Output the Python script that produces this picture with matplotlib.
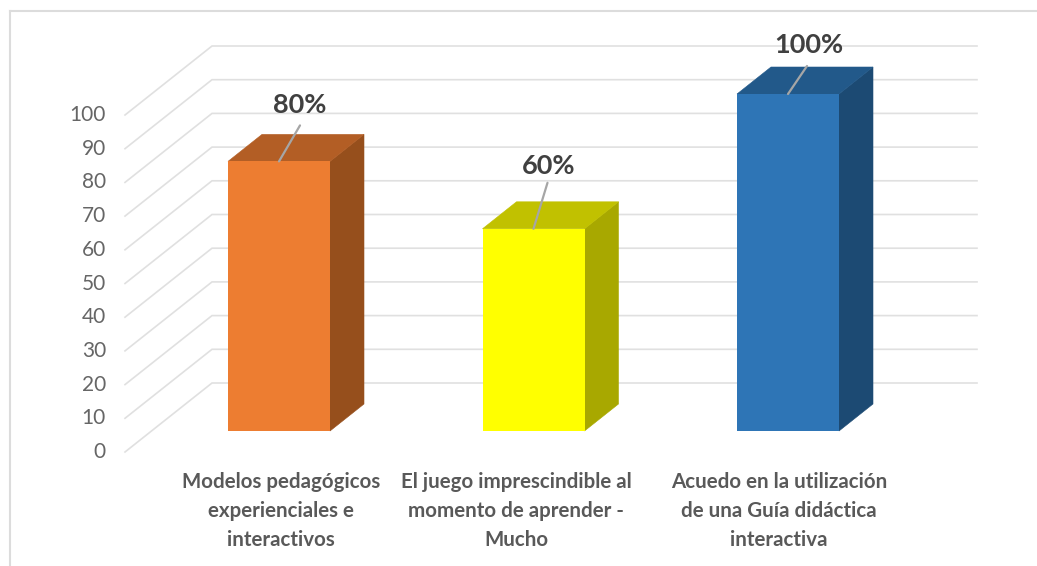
import matplotlib
matplotlib.use("Agg")
import matplotlib.pyplot as plt
from matplotlib.patches import Polygon
from matplotlib.lines import Line2D

plt.rcParams['font.family'] = ['Lato', 'DejaVu Sans']

# Data
categories = [
    ["Modelos pedagógicos", "experienciales e", "interactivos"],
    ["El juego imprescindible al", "momento de aprender -", "Mucho"],
    ["Acuedo en la utilización", "de una Guía didáctica", "interactiva"],
]
values = [80, 60, 100]
value_labels = ["80%", "60%", "100%"]
yticks = [0, 10, 20, 30, 40, 50, 60, 70, 80, 90, 100]

# Styles
front_colors = ["#ED7D31", "#FFFF00", "#2E75B6"]
top_colors = ["#B35E25", "#C1C100", "#22598A"]
side_colors = ["#964F1C", "#A8A800", "#1C4A73"]
GRID = "#E0E0E0"
W, H = 1037, 566
PX_X = 254.5      # pixels per category
PX_Y = 3.37       # pixels per value unit
X0, Y0 = 279, 431  # pixel of category 0, value 0


def px(dx):
    return dx / PX_X


def py(dy):
    return dy / PX_Y


fig = plt.figure(figsize=(W / 100, H / 100), dpi=100, facecolor="white")
ax = fig.add_axes([0, 0, 1, 1])
ax.set_xlim(-X0 / PX_X, (W - X0) / PX_X)
ax.set_ylim((Y0 - H) / PX_Y, Y0 / PX_Y)
ax.axis("off")

# Chart frame
fig.add_artist(Line2D([9.5 / W, 9.5 / W], [0, 1 - 10.5 / H], color="#DCDCDC", lw=1.5))
fig.add_artist(Line2D([9.5 / W, 1], [1 - 10.5 / H, 1 - 10.5 / H], color="#DCDCDC", lw=1.5))

# Gridlines on the floor-side wall and the back wall
fx0, fx1, bx = px(125 - X0), px(212 - X0), px(977 - X0)
front_dy, back_dy = py(-21), py(48)
for t in yticks:
    ax.plot([fx0, fx1, bx], [t + front_dy, t + back_dy, t + back_dy],
            color=GRID, lw=1.2, solid_joinstyle="miter", zorder=1)
    ax.text(px(106 - X0), t + front_dy - py(0), str(t), ha="right", va="center",
            fontsize=15, color="#666666", zorder=5)

# 3D bars
half = px(51)
ddx, ddy = px(34), py(27)
for i, v in enumerate(values):
    l, r = i - half, i + half
    ax.add_patch(Polygon([(r, 0), (r + ddx, ddy), (r + ddx, v + ddy), (r, v)],
                         fc=side_colors[i], ec=side_colors[i], lw=0.4, zorder=3))
    ax.add_patch(Polygon([(l, v), (l + ddx, v + ddy), (r + ddx, v + ddy), (r, v)],
                         fc=top_colors[i], ec=top_colors[i], lw=0.4, zorder=3))
    ax.bar(i, v, width=2 * half, color=front_colors[i], zorder=4)

# Data labels with leader lines (offsets in pixels)
leader_tips = [(21, 36), (14, 46), (19, 28)]
label_offsets = [(21, 56), (15, 63), (21, 49)]
for i, v in enumerate(values):
    ax.annotate("", xy=(i, v), xytext=leader_tips[i], textcoords="offset pixels",
                arrowprops=dict(arrowstyle="-", color="#A6A6A6", lw=1.6,
                                shrinkA=0, shrinkB=0), zorder=6)
    ax.annotate(value_labels[i], xy=(i, v), xytext=label_offsets[i],
                textcoords="offset pixels", ha="center", va="center",
                fontsize=19.5, fontweight="bold", color="#404040", zorder=7)

# Category labels (one text per line)
label_x = [281, 516, 779]
line_y = [482, 511, 540]
for i, lines in enumerate(categories):
    for line, y in zip(lines, line_y):
        ax.text(px(label_x[i] - X0), py(Y0 - y), line, ha="center", va="center",
                fontsize=14.8, fontweight="bold", color="#595959", zorder=5)

fig.savefig("out.png", dpi=100)
